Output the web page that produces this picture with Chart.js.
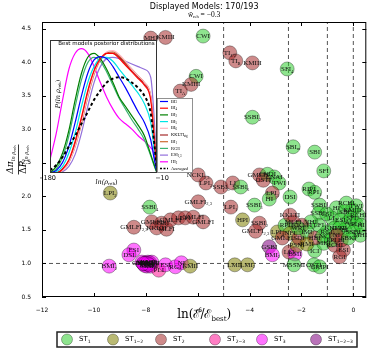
<!DOCTYPE html>
<html lang="en">
<head>
<meta charset="UTF-8">
<title>Displayed Models</title>
<style>
  body { margin: 0; padding: 0; background: #fff; }
  #wrap { position: relative; width: 374px; height: 350px; }
  #mainChart { position: absolute; left: 0; top: 0; }
  #insetChart { position: absolute; left: 40px; top: 36px; }
</style>
</head>
<body>
<div id="wrap">
  <canvas id="mainChart" width="374" height="350"></canvas>
  <canvas id="insetChart" width="160" height="152"></canvas>
</div>
<script src="https://cdn.jsdelivr.net/npm/chart.js"></script>
<script>
// ---- main scatter data ----
const xTicks = [-12, -10, -8, -6, -4, -2, 0];
const yTicks = [0.5, 1.0, 1.5, 2.0, 2.5, 3.0, 3.5, 4.0, 4.5];
const vLines = [-5, -2.5, -1, 0];
const hLines = [1];

const categories = ['ST', 'ST', 'ST', 'ST', 'ST', 'ST'];
const categorySubs = ['1', '1\u22122', '2', '2\u22123', '3', '1\u22122\u22123'];

// model positions (ln E/Ebest, ratio) and their class index
const modelX = [
  -7.81, -7.24, -5.79, -4.76, -4.53, -3.89, -2.55, -6.06, -6.25, -6.67,
  -3.89, -2.32, -1.49, -1.14, -1.71, -1.49, -1.30, -1.33, -5.98, -5.68,
  -5.10, -4.65, -4.34, -3.62, -3.31, -3.05, -3.47, -2.86, -3.12, -3.24,
  -2.44, -4.72, -3.81, -4.27, -3.62, -3.77, -2.93, -3.24, -3.12, -2.48,
  -2.25, -2.17, -2.29, -1.52, -1.30, -1.49, -1.14, -0.72, -0.38, -0.53,
  -4.57, -4.08, -0.65, -0.34, -0.04, 0.19, -0.84, -0.50, -0.19, 0.11,
  -0.72, -0.34, 0.00, 0.27, -1.03, -1.33, -1.64, -1.98, -2.32, -2.63,
  -2.44, -2.10, -1.79, -1.49, -1.18, -0.84, -0.46, -1.79, -2.13, -0.53,
  -0.08, -1.03, -0.65, 0.30, -0.19, -2.74, -2.44, -0.27, 0.11, -5.98,
  -8.46, -7.77, -7.58, -7.39, -7.20, -7.05, -6.74, -6.48, -6.17, -5.79,
  -9.37, -7.85, -8.46, -8.65, -9.41, -8.15, -8.00, -7.89, -7.77, -7.96,
  -7.81, -7.50, -7.24, -6.86, -6.63, -6.29, -8.08, -7.92, -7.85, -8.04,
  -8.02, -7.94, -7.87, -8.10
];
const modelY = [
  4.36, 4.37, 4.39, 4.14, 4.02, 3.99, 3.90, 3.79, 3.67, 3.57,
  3.18, 2.74, 2.66, 2.38, 2.11, 2.06, 1.87, 1.75, 2.32, 2.20,
  2.14, 2.20, 2.14, 2.32, 2.33, 2.29, 2.24, 2.20, 2.05, 1.96,
  1.99, 1.84, 1.87, 1.65, 1.60, 1.48, 1.47, 1.25, 1.13, 1.17,
  1.14, 1.27, 0.98, 0.98, 0.95, 1.19, 1.30, 1.27, 1.20, 1.10,
  0.98, 0.98, 1.83, 1.77, 1.80, 1.72, 1.68, 1.65, 1.62, 1.59,
  1.53, 1.50, 1.47, 1.42, 1.47, 1.57, 1.62, 1.57, 1.62, 1.57,
  1.45, 1.38, 1.47, 1.38, 1.41, 1.35, 1.35, 1.29, 1.53, 1.53,
  1.68, 1.74, 1.42, 1.57, 1.38, 1.38, 1.72, 1.90, 1.86, 1.92,
  1.54, 1.62, 1.53, 1.60, 1.51, 1.65, 1.68, 1.68, 1.69, 1.62,
  2.05, 1.84, 1.20, 1.13, 0.96, 1.02, 1.01, 0.99, 1.02, 0.96,
  0.96, 0.90, 0.98, 0.95, 1.01, 0.96, 0.99, 1.02, 1.01, 0.97,
  1.00, 1.00, 0.98, 1.00
];
const modelCat = [
  2, 2, 0, 2, 2, 2, 0, 0, 2, 2,
  0, 0, 0, 0, 0, 0, 0, 0, 2, 2,
  2, 2, 0, 2, 0, 0, 2, 0, 2, 0,
  0, 2, 0, 1, 2, 2, 1, 5, 4, 2,
  4, 1, 0, 0, 0, 0, 0, 2, 2, 2,
  1, 1, 0, 0, 0, 0, 0, 0, 0, 0,
  0, 0, 0, 0, 0, 0, 0, 2, 2, 0,
  1, 2, 0, 2, 0, 0, 2, 1, 0, 0,
  0, 0, 2, 0, 0, 2, 2, 0, 0, 2,
  2, 2, 2, 2, 2, 2, 2, 2, 2, 2,
  1, 0, 4, 4, 4, 4, 4, 4, 4, 4,
  4, 3, 4, 4, 4, 1, 4, 4, 4, 4,
  4, 4, 4, 4
];
const modelName = [
  'MHI', 'KMIII', 'CWI', 'TI', 'TI', 'KMIII', 'SFI', 'CWI', 'KMIII', 'TI',
  'SSBI', 'SBI', 'SBI', 'SFI', 'RIPI', 'RPI', 'SSBI', 'SSBI', 'NCKI', 'LPI',
  'SSBI', 'LI', 'SSBI', 'GMLFI', 'CNDI', 'CNAI', 'OSTI', 'TWI', 'LPI', 'HI',
  'DSI', 'LPI', 'SSBI', 'HPI', 'SSBI', 'GMLFI', 'LPI', 'GSBI', 'BMI', 'LFI',
  'BMI', 'PSNI', 'MSSMI', 'OSTI', 'GRIPI', 'ICI', 'MHI', 'RCHI', 'ESI', 'RGI',
  'LMI', 'LMI', 'HI', 'SBI', 'KMIII', 'RCHI', 'LI', 'ESI', 'AI', 'PLI',
  'KKLTI', 'BI', 'SSBI', 'MHI', 'RGI', 'LFI', 'VHI', 'KKLTI', 'MLFI', 'RPI',
  'NFI', 'SDI', 'IMI', 'HBI', 'CNCI', 'PPI', 'BI', 'RMI', 'WRI', 'DWI',
  'SFI', 'CSI', 'NI', 'HI', 'SBKI', 'GMLFI', 'KKLTI', 'RCHI', 'TWI', 'GMLFI',
  'GMLFI', 'GMLFI', 'KKLTI', 'SSBI', 'MLFI', 'GMLFI', 'LI', 'LPI', 'GMLFI', 'GMLFI',
  'LPI', 'SSBI', 'ESI', 'DSI', 'BMI', 'SBI', 'GMSSMI', 'PLI', 'LPI', 'MHI',
  'SSBI', 'PLI', 'ESI', 'RGI', 'NI', 'KMII', 'LI', 'KMII', 'CNBI', 'ESI',
  'BMI', 'BMI', 'BMI', 'BMI'
];
const modelSub = [
  '', '', '', '1/2', 'B', '', '4', '', '', 'A',
  '2', 'm', '', '', '', '1', '4', '3', '2,3', '2',
  '5', '', '6', '1', '', '', '', '', '3', '',
  '', '1', '1', '', '2', '2,3', '4', '', '2', '',
  '', '', '', '', '', '', '', '', '', '',
  '1', '2', '', '', '', '', '', '', '', '',
  '', '', '', '', '', '', '', '', '', '',
  '', '', '', '', '', '', '', '', '', '',
  '', '', '', '', '', '', '', '', '', '2,3',
  '2,3', '', '', '', '', '', '', '', '', '',
  '2', '4', '', '', '2', '', '', '', '', '',
  '', '', '', '', '', '', '', '', '', '',
  '1', '1', '1', '1'
];

// ---- inset data: posterior of ln rho_reh ----
const lnRho = [-180, -170, -160, -150, -140, -130, -120, -110, -100, -90, -80, -70, -60, -50, -40, -30, -20, -15, -10];
const insetLabels = ['BI', 'BI', 'BI', 'BI', 'BI', 'KKLTI', 'BI', 'RGI', 'ESI', 'HI', 'Averaged'];
const insetSubs = ['3', '4', '2', '5', '6', 'stg', '1', '1', '2,3', '2', ''];
const postBlue    = [0, 0.02, 0.08, 0.20, 0.38, 0.58, 0.75, 0.85, 0.875, 0.86, 0.80, 0.72, 0.64, 0.55, 0.46, 0.38, 0.25, 0.12, 0];
const postRed     = [0, 0, 0.03, 0.10, 0.24, 0.42, 0.62, 0.77, 0.86, 0.90, 0.90, 0.86, 0.81, 0.76, 0.71, 0.66, 0.55, 0.30, 0];
const postGreen   = [0, 0.05, 0.15, 0.32, 0.55, 0.75, 0.87, 0.90, 0.86, 0.78, 0.68, 0.57, 0.50, 0.43, 0.36, 0.28, 0.14, 0.07, 0];
const postCyan    = [0, 0.01, 0.05, 0.15, 0.30, 0.50, 0.68, 0.80, 0.86, 0.87, 0.84, 0.78, 0.72, 0.66, 0.60, 0.52, 0.38, 0.20, 0];
const postPink    = [0, 0, 0.02, 0.08, 0.20, 0.38, 0.58, 0.75, 0.86, 0.91, 0.92, 0.89, 0.84, 0.78, 0.73, 0.68, 0.58, 0.33, 0];
const postBrown   = [0, 0, 0.03, 0.09, 0.22, 0.40, 0.60, 0.76, 0.86, 0.90, 0.90, 0.87, 0.82, 0.77, 0.72, 0.67, 0.57, 0.32, 0];
const postSienna  = [0, 0, 0.02, 0.08, 0.20, 0.37, 0.57, 0.74, 0.85, 0.90, 0.91, 0.88, 0.83, 0.78, 0.73, 0.68, 0.58, 0.34, 0];
const postSeaGrn  = [0, 0.03, 0.12, 0.28, 0.50, 0.70, 0.83, 0.87, 0.84, 0.76, 0.66, 0.56, 0.48, 0.40, 0.33, 0.25, 0.13, 0.06, 0];
const postPurple  = [0, 0, 0.01, 0.05, 0.14, 0.30, 0.50, 0.68, 0.80, 0.86, 0.87, 0.86, 0.84, 0.82, 0.80, 0.78, 0.72, 0.45, 0];
const postMagenta = [0.10, 0.30, 0.55, 0.78, 0.90, 0.935, 0.90, 0.80, 0.68, 0.57, 0.48, 0.41, 0.37, 0.33, 0.28, 0.24, 0.19, 0.15, 0];
const postAverage = [0.02, 0.06, 0.12, 0.20, 0.28, 0.37, 0.46, 0.55, 0.62, 0.68, 0.71, 0.72, 0.71, 0.68, 0.64, 0.58, 0.45, 0.25, 0.02];

// ---- styles ----
const categoryColors = [
  'rgba(50,205,50,0.55)', 'rgba(128,128,0,0.55)', 'rgba(165,42,42,0.55)',
  'rgba(255,20,147,0.55)', 'rgba(255,0,255,0.55)', 'rgba(128,0,128,0.55)'
];
const insetColors = ['#0000ff', '#ff0000', '#008000', '#00e5e5', '#ffb6c1', '#a52a2a', '#cd6a32', '#3cb371', '#9370db', '#ff00ff', '#000000'];
const insetCurves = [postBlue, postRed, postGreen, postCyan, postPink, postBrown, postSienna, postSeaGrn, postPurple, postMagenta, postAverage];

// draws a run of text pieces: [text, size, dy, fontStyle]
function drawRich(ctx, parts, x, y, align, family) {
  let total = 0;
  const widths = parts.map(p => {
    ctx.font = (p[3] || '') + ' ' + p[1] + 'px ' + family;
    const w = ctx.measureText(p[0]).width;
    total += w;
    return w;
  });
  let cx = align === 'center' ? x - total / 2 : (align === 'right' ? x - total : x);
  ctx.textAlign = 'left';
  ctx.textBaseline = 'middle';
  parts.forEach((p, i) => {
    ctx.font = (p[3] || '') + ' ' + p[1] + 'px ' + family;
    ctx.fillText(p[0], cx, y + p[2]);
    cx += widths[i];
  });
}

const pointLabels = {
  id: 'pointLabels',
  afterDatasetsDraw(chart) {
    const ctx = chart.ctx;
    const meta = chart.getDatasetMeta(0);
    ctx.save();
    ctx.fillStyle = '#111';
    meta.data.forEach((pt, i) => {
      const parts = [[modelName[i], 7, 0]];
      if (modelSub[i]) parts.push([modelSub[i], 4.5, 2.5]);
      drawRich(ctx, parts, pt.x, pt.y, 'center', "'Liberation Serif', serif");
    });
    ctx.restore();
  }
};

const decor = {
  id: 'decor',
  afterDraw(chart) {
    const { ctx, chartArea: a, scales: { x, y } } = chart;
    ctx.save();
    // frame and inward ticks
    ctx.strokeStyle = '#000';
    ctx.lineWidth = 1;
    ctx.strokeRect(a.left + 0.5, a.top + 0.5, a.right - a.left - 1, a.bottom - a.top - 1);
    ctx.beginPath();
    xTicks.forEach(v => {
      const px = Math.round(x.getPixelForValue(v)) + 0.5;
      ctx.moveTo(px, a.bottom); ctx.lineTo(px, a.bottom - 4);
      ctx.moveTo(px, a.top); ctx.lineTo(px, a.top + 4);
    });
    yTicks.forEach(v => {
      const py = Math.round(y.getPixelForValue(v)) + 0.5;
      ctx.moveTo(a.left, py); ctx.lineTo(a.left + 4, py);
      ctx.moveTo(a.right, py); ctx.lineTo(a.right - 4, py);
    });
    ctx.stroke();

    ctx.fillStyle = '#000';
    const cx = (a.left + a.right) / 2;
    // title and subtitle
    drawRich(ctx, [['Displayed Models: 170/193', 8, 0]], cx, 7, 'center', "'DejaVu Sans', sans-serif");
    drawRich(ctx, [['w\u0304', 7.5, 0, 'italic'], ['reh', 4.5, 2], [' = \u22120.3', 7.5, 0]], cx, 15, 'center', "'Liberation Serif', serif");
    // x axis title
    drawRich(ctx, [['ln(\u2130/\u2130', 12, 0], ['best', 7, 4], [')', 12, 0]], cx, 315, 'center', "'DejaVu Serif', serif");
    // y axis title: rotated fraction
    ctx.save();
    ctx.translate(18, (a.top + a.bottom) / 2);
    ctx.rotate(-Math.PI / 2);
    drawRich(ctx, [['\u0394\u03c0', 9, 0, 'italic'], ['ln \u03c1', 5, 3, 'italic'], ['reh', 3.8, 4.5]], 0, -7, 'center', "'DejaVu Serif', serif");
    drawRich(ctx, [['\u0394', 9, 0], ['P', 9, 0, 'italic'], ['ln \u03c1', 5, 3, 'italic'], ['reh', 3.8, 4.5]], 0, 6, 'center', "'DejaVu Serif', serif");
    ctx.beginPath();
    ctx.moveTo(-15, 0.5); ctx.lineTo(15, 0.5);
    ctx.lineWidth = 0.8;
    ctx.stroke();
    ctx.restore();

    // bottom legend
    const lx = [67, 113, 161, 215, 262, 316];
    ctx.fillStyle = '#fff';
    ctx.fillRect(57, 332, 300, 15);
    ctx.lineWidth = 1.5;
    ctx.strokeStyle = '#222';
    ctx.strokeRect(57, 332, 300, 15);
    categories.forEach((c, i) => {
      ctx.beginPath();
      ctx.arc(lx[i], 339.5, 5.5, 0, Math.PI * 2);
      ctx.fillStyle = categoryColors[i];
      ctx.fill();
      ctx.lineWidth = 0.6;
      ctx.strokeStyle = 'rgba(0,0,0,0.5)';
      ctx.stroke();
      ctx.fillStyle = '#000';
      drawRich(ctx, [[c, 7, 0], [categorySubs[i], 4.5, 2]], lx[i] + 12, 339.5, 'left', "'DejaVu Sans', sans-serif");
    });
    ctx.restore();
  }
};

const refLines = [];
vLines.forEach(v => refLines.push({
  type: 'line', data: [{ x: v, y: 0.5 }, { x: v, y: 4.6 }],
  borderColor: '#555', borderWidth: 1, borderDash: [4, 3], pointRadius: 0, order: 2
}));
hLines.forEach(v => refLines.push({
  type: 'line', data: [{ x: -12, y: v }, { x: 0.5, y: v }],
  borderColor: '#555', borderWidth: 1, borderDash: [4, 3], pointRadius: 0, order: 2
}));

new Chart(document.getElementById('mainChart'), {
  type: 'scatter',
  data: {
    datasets: [{
      data: modelX.map((v, i) => ({ x: v, y: modelY[i] })),
      backgroundColor: modelCat.map(c => categoryColors[c]),
      borderColor: 'rgba(0,0,0,0.45)',
      borderWidth: 0.7,
      pointRadius: 7,
      order: 0
    }].concat(refLines)
  },
  options: {
    responsive: false,
    animation: false,
    layout: { padding: { left: 0, top: 22, right: 4, bottom: 0 } },
    plugins: { legend: { display: false }, tooltip: { enabled: false } },
    scales: {
      x: {
        type: 'linear', min: -12, max: 0.5,
        grid: { display: false }, border: { display: false },
        afterBuildTicks: s => { s.ticks = xTicks.map(v => ({ value: v })); },
        afterFit: s => { s.height = 53; },
        ticks: {
          autoSkip: false, maxRotation: 0, padding: 2, color: '#000',
          font: { size: 6, family: "'DejaVu Sans', sans-serif" },
          callback: v => String(v).replace('-', '\u2212')
        }
      },
      y: {
        min: 0.5, max: 4.6,
        grid: { display: false }, border: { display: false },
        afterBuildTicks: s => { s.ticks = yTicks.map(v => ({ value: v })); },
        afterFit: s => { s.width = 42; },
        ticks: {
          autoSkip: false, padding: 3, color: '#000',
          font: { size: 6, family: "'DejaVu Sans', sans-serif" },
          callback: v => Number(v).toFixed(1)
        }
      }
    }
  },
  plugins: [pointLabels, decor]
});

// ---- inset chart ----
const insetDecor = {
  id: 'insetDecor',
  beforeDatasetsDraw(chart) {
    const { ctx, chartArea: a } = chart;
    ctx.save();
    ctx.fillStyle = '#fff';
    ctx.fillRect(a.left, a.top, a.right - a.left, a.bottom - a.top);
    ctx.restore();
  },
  afterDraw(chart) {
    const { ctx, chartArea: a } = chart;
    ctx.save();
    ctx.strokeStyle = '#333';
    ctx.lineWidth = 1;
    ctx.strokeRect(a.left + 0.5, a.top + 0.5, a.right - a.left - 1, a.bottom - a.top - 1);
    ctx.fillStyle = '#000';
    drawRich(ctx, [['Best models posterior distributions', 5.5, 0]], (a.left + a.right) / 2 + 3, a.top + 4, 'center', "'DejaVu Sans', sans-serif");
    drawRich(ctx, [['\u2212180', 6.5, 0]], a.left - 3, a.bottom + 5, 'center', "'DejaVu Sans', sans-serif");
    drawRich(ctx, [['\u221210', 6.5, 0]], a.right + 5, a.bottom + 5, 'center', "'DejaVu Sans', sans-serif");
    drawRich(ctx, [['ln(\u03c1', 6.5, 0, 'italic'], ['reh', 4, 2], [')', 6.5, 0]], (a.left + a.right) / 2 + 3, a.bottom + 9, 'center', "'DejaVu Serif', serif");
    ctx.save();
    ctx.translate(a.left + 8, a.top + 54);
    ctx.rotate(-Math.PI / 2);
    drawRich(ctx, [['P', 6.5, 0, 'italic'], ['(ln \u03c1', 6.5, 0, 'italic'], ['reh', 4, 2], [')', 6.5, 0]], 0, 0, 'center', "'DejaVu Serif', serif");
    ctx.restore();

    // legend box
    const bx = 117, by = 62, bw = 35, bh = 74;
    ctx.fillStyle = '#fff';
    ctx.fillRect(bx, by, bw, bh);
    ctx.strokeStyle = '#777';
    ctx.lineWidth = 0.8;
    ctx.strokeRect(bx + 0.5, by + 0.5, bw, bh);
    insetLabels.forEach((lab, i) => {
      const ly = by + 3.5 + i * 6.7;
      ctx.beginPath();
      ctx.strokeStyle = insetColors[i];
      ctx.lineWidth = i === 10 ? 1.6 : 1.2;
      ctx.setLineDash(i === 10 ? [2, 1.5] : []);
      ctx.moveTo(bx + 3, ly); ctx.lineTo(bx + 11, ly);
      ctx.stroke();
      ctx.setLineDash([]);
      ctx.fillStyle = '#000';
      const parts = i === 10 ? [[lab, 4.5, 0, 'italic']] : [[lab, 4.5, 0], [insetSubs[i], 3, 1.2]];
      drawRich(ctx, parts, bx + 14, ly, 'left', "'Liberation Serif', serif");
    });
    ctx.restore();
  }
};

new Chart(document.getElementById('insetChart'), {
  type: 'line',
  data: {
    datasets: insetCurves.map((curve, i) => ({
      data: lnRho.map((v, j) => ({ x: v, y: curve[j] })),
      borderColor: insetColors[i],
      borderWidth: i === 10 ? 2 : 1.2,
      borderDash: i === 10 ? [3, 2.5] : [],
      pointRadius: 0,
      cubicInterpolationMode: 'monotone',
      order: i === 10 ? -1 : 0
    }))
  },
  options: {
    responsive: false,
    animation: false,
    layout: { padding: { left: 10, right: 43, top: 4, bottom: 15 } },
    plugins: { legend: { display: false }, tooltip: { enabled: false } },
    scales: {
      x: { type: 'linear', min: -180, max: -10, display: false },
      y: { min: 0, max: 1, display: false }
    }
  },
  plugins: [insetDecor]
});
</script>
</body>
</html>
